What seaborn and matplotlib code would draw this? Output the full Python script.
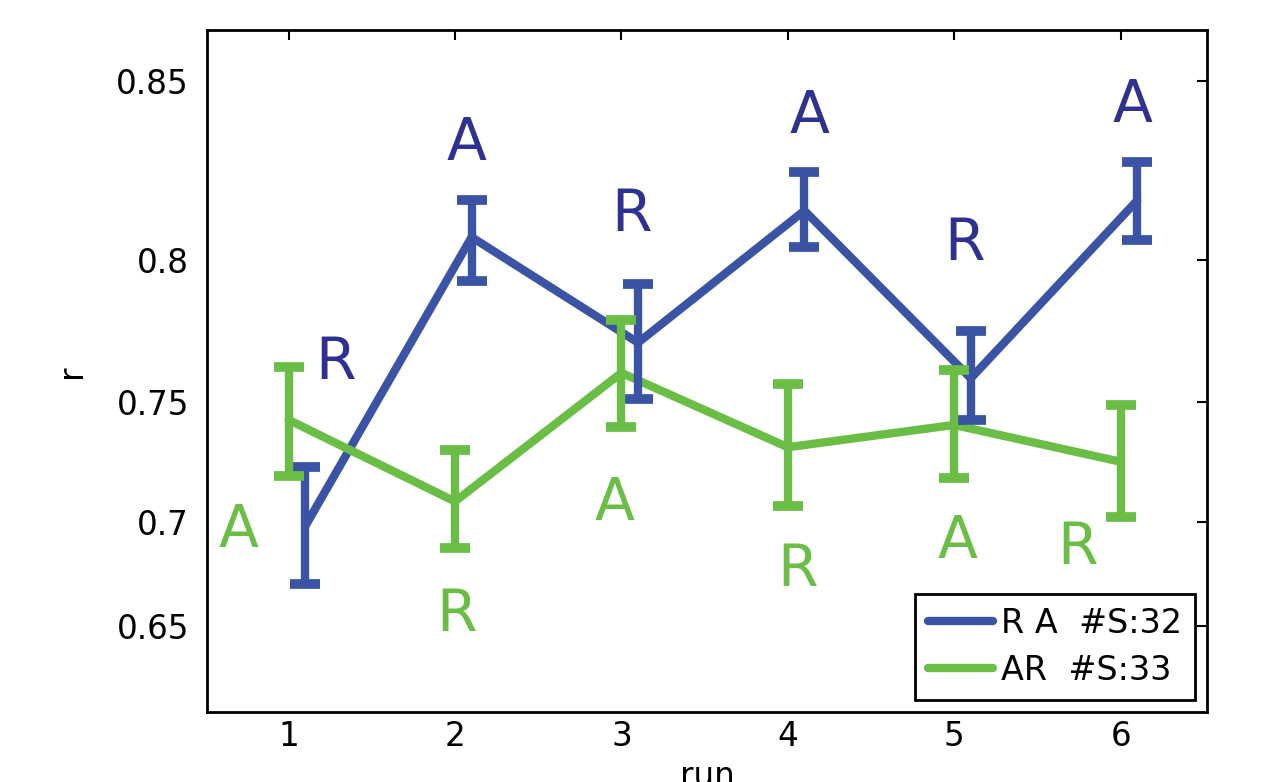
import numpy as np
import pandas as pd
import matplotlib
matplotlib.use("Agg")
import matplotlib.pyplot as plt
import seaborn as sns

# runs and group offsets
runs = [1, 2, 3, 4, 5, 6]
ra_x = [1.1, 2.1, 3.1, 4.1, 5.1, 6.1]
ar_x = [1, 2, 3, 4, 5, 6]

# mean correlation and error bounds
ra_mean = [0.698, 0.807, 0.772, 0.815, 0.759, 0.818]
ra_lo = [0.671, 0.793, 0.751, 0.804, 0.743, 0.806]
ra_hi = [0.724, 0.818, 0.792, 0.826, 0.776, 0.829]

ar_mean = [0.743, 0.709, 0.761, 0.732, 0.741, 0.726]
ar_lo = [0.720, 0.688, 0.740, 0.707, 0.719, 0.702]
ar_hi = [0.763, 0.731, 0.780, 0.757, 0.762, 0.749]

# order letters for each run
ra_letters = ["R", "A", "R", "A", "R", "A"]
ar_letters = ["A", "R", "A", "R", "A", "R"]
ra_text_x = [1.28, 2.07, 3.06, 4.13, 5.06, 6.07]
ra_text_y = [0.765, 0.834, 0.814, 0.841, 0.805, 0.844]
ar_text_x = [0.70, 2.01, 2.96, 4.06, 5.02, 5.74]
ar_text_y = [0.696, 0.656, 0.708, 0.678, 0.691, 0.688]

ytick_vals = [0.65, 0.7, 0.75, 0.8, 0.85]
ytick_labels = ["0.65", "0.7", "0.75", "0.8", "0.85"]

group_names = ["R A  #S:32", "AR  #S:33"]
blue = "#3a53a4"
blue_text = "#2e3192"
green = "#6abd45"

df = pd.DataFrame({
    "run": ra_x + ar_x,
    "r": ra_mean + ar_mean,
    "group": [group_names[0]] * 6 + [group_names[1]] * 6,
})

sns.set_style("white")
plt.rcParams["font.family"] = ["DejaVu Sans"]
plt.rcParams["text.color"] = "black"
plt.rcParams["axes.labelcolor"] = "black"
plt.rcParams["xtick.color"] = "black"
plt.rcParams["ytick.color"] = "black"

fig = plt.figure(figsize=(12.64, 7.82), dpi=100)
ax = fig.add_axes([0.1638, 0.0895, 0.7912, 0.8721])

# Fisher z axis
ax.set_yscale("function", functions=(np.arctanh, np.tanh))

sns.lineplot(data=df, x="run", y="r", hue="group",
             palette=[blue, green], linewidth=6, ax=ax, sort=False)

for xs, m, lo, hi, c in [(ra_x, ra_mean, ra_lo, ra_hi, blue),
                         (ar_x, ar_mean, ar_lo, ar_hi, green)]:
    m = np.array(m)
    yerr = [m - np.array(lo), np.array(hi) - m]
    ax.errorbar(xs, m, yerr=yerr, fmt="none", ecolor=c,
                elinewidth=6, capsize=11, capthick=7)

for xs, ys, letters, c in [(ra_text_x, ra_text_y, ra_letters, blue_text),
                           (ar_text_x, ar_text_y, ar_letters, green)]:
    for x, y, t in zip(xs, ys, letters):
        ax.text(x, y, t, color=c, fontsize=42, ha="center", va="center")

ax.set_xlim(0.51, 6.52)
ax.set_ylim(0.604, 0.862)
ax.set_xticks(runs)
ax.set_yticks(ytick_vals)
ax.set_yticklabels(ytick_labels)
ax.minorticks_off()
ax.tick_params(direction="in", length=7, width=1.5, labelsize=23.5,
               top=True, right=True)
ax.tick_params(axis="x", pad=6)
ax.tick_params(axis="y", pad=13)
for s in ax.spines.values():
    s.set_color("black")
    s.set_linewidth(2)

ax.set_xlabel("run", fontsize=23.5, labelpad=5)
ax.set_ylabel("r", fontsize=23.5, labelpad=20)

leg = ax.legend(loc="lower right", fontsize=24, frameon=True, fancybox=False,
                handlelength=1.95, handletextpad=0.25, borderpad=0.38,
                labelspacing=0.42, borderaxespad=0.37)
leg.get_frame().set_edgecolor("black")
leg.get_frame().set_linewidth(2)
leg.get_frame().set_alpha(1)
for line in leg.get_lines():
    line.set_linewidth(6)

fig.savefig("out.png", dpi=100)
